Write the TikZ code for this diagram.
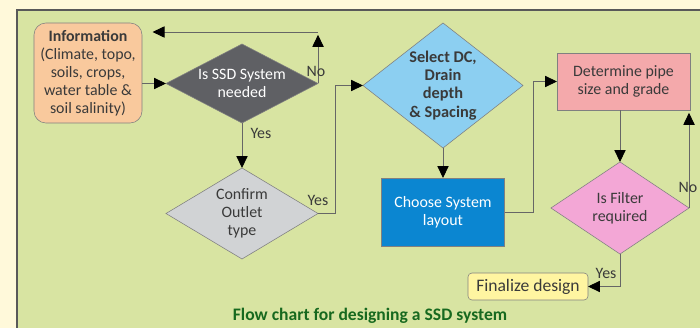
\documentclass[tikz,border=0pt]{standalone}
\usepackage{fontspec}
\setmainfont{Carlito}
\usetikzlibrary{shapes.geometric,arrows.meta}
\definecolor{cream}{HTML}{FFF9DA}
\definecolor{panel}{HTML}{D8E4A2}
\definecolor{txt}{HTML}{3A3A3A}
\definecolor{infofill}{HTML}{F9C99D}
\definecolor{askfill}{HTML}{5F6064}
\definecolor{outletfill}{HTML}{D1D3D5}
\definecolor{selectfill}{HTML}{8CCFF1}
\definecolor{layoutfill}{HTML}{0B86D1}
\definecolor{pipefill}{HTML}{F4A9AB}
\definecolor{filterfill}{HTML}{F3A7D6}
\definecolor{finalfill}{HTML}{FFF5A1}
\definecolor{capgreen}{HTML}{17691F}
\tikzset{
  box/.style={draw=black!50, text=txt, align=center, inner sep=0pt, outer sep=0pt,
    font=\fontsize{11.3}{12.8}\selectfont},
  dia/.style={box, diamond},
  conn/.style={draw=black!60, line width=0.6pt},
  arr/.style={conn, -{Triangle[length=8.5pt,width=8pt,color=black]}},
  lbl/.style={text=txt, font=\fontsize{11.3}{12.8}\selectfont}
}
\begin{document}
\begin{tikzpicture}[x=0.025cm,y=-0.025cm]
\useasboundingbox (0,0) rectangle (700,328);
\fill[cream] (0,0) rectangle (700,328);
\draw[fill=panel, draw=black!65, line width=1.2pt] (17,10) rectangle (712,340);
% boxes
\node[box, rounded corners=0.3cm, fill=infofill, minimum width=2.7cm, minimum height=2.5cm] (info) at (88,73)
  {\textbf{Information}\\(Climate, topo,\\soils, crops,\\water table \&\\soil salinity)};
\node[dia, fill=askfill, text=white, shape aspect=1.92, minimum width=3.8cm, minimum height=1.975cm] (ask) at (242,83.5)
  {Is SSD System\\needed};
\node[dia, fill=outletfill, shape aspect=1.67, minimum width=3.8cm, minimum height=2.275cm] (outlet) at (242,213.5)
  {Confirm\\Outlet\\type};
\node[dia, fill=selectfill, shape aspect=1.28, minimum width=4cm, minimum height=3.125cm,
  font=\fontsize{11.6}{12.9}\selectfont\bfseries] (select) at (443,85.5)
  {Select DC,\\Drain\\depth\\\& Spacing};
\node[box, fill=layoutfill, text=white, minimum width=3.075cm, minimum height=1.7cm] (layout) at (443,212)
  {Choose System\\layout};
\node[box, fill=pipefill, minimum width=3.325cm, minimum height=1.425cm] (pipe) at (623.5,81.5)
  {Determine pipe\\size and grade};
\node[dia, fill=filterfill, shape aspect=1.5, minimum width=3.45cm, minimum height=2.3cm] (filter) at (620,208)
  {Is Filter\\required};
\node[box, rounded corners=0.1cm, fill=finalfill, minimum width=3cm, minimum height=0.675cm,
  font=\fontsize{12.5}{14}\selectfont] (final) at (528,286.5) {Finalize design};
% connectors
\coordinate (loop) at (313,32);
\draw[arr] (info.east |- ask.west) -- (ask.west);
\draw[arr, shorten >=2pt] (ask.east) -- (ask.east |- loop);
\draw[arr, shorten >=7.5pt] (ask.east |- loop) -- (info.east |- loop);
\draw[arr] (ask.south) -- (outlet.north);
\draw[arr] (outlet.east) -- ++(17,0) |- (select.west);
\draw[arr] (select.south) -- (layout.north);
\draw[arr] (layout.east) -- ++(29,0) |- (pipe.west);
\draw[arr] (filter.north |- pipe.south) -- (filter.north);
\draw[arr, shorten >=2pt] (filter.east) -- (filter.east |- pipe.south);
\draw[arr] (filter.south) |- (final.east);
% labels
\node[lbl] (no1) at (316,71) {No};
\node[lbl] (yes1) at (261,133) {Yes};
\node[lbl] (yes2) at (318,200) {Yes};
\node[lbl] (no2) at (688,187) {No};
\node[lbl] (yes3) at (606,273) {Yes};
\node[font=\fontsize{12.5}{14}\selectfont\bfseries, text=capgreen] (caption) at (370,316)
  {Flow chart for designing a SSD system};
\end{tikzpicture}
\end{document}
